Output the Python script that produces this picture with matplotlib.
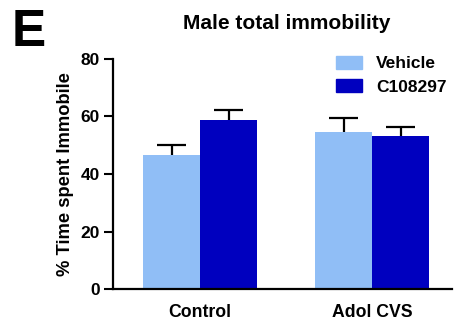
from matplotlib import pyplot as plt
from matplotlib.patches import Patch
import numpy as np

groups = ['Control', 'Adol CVS']
series = ['Vehicle', 'C108297']
vehicle = [46.7, 54.7]
c108297 = [58.7, 53.2]
vehicle_err = [3.2, 4.7]
c108297_err = [3.7, 3.1]
colors = ['#90bef6', '#0000bf']

plt.rcParams['font.family'] = ['Liberation Sans', 'DejaVu Sans']
plt.rcParams['font.weight'] = 'bold'

fig = plt.figure(figsize=(4.54, 3.27), dpi=100)
ax = fig.add_axes([0.249, 0.116, 0.747, 0.704])

x = np.arange(len(groups))
w = 0.331
cap = w / 4
for vals, errs, col, off in [(vehicle, vehicle_err, colors[0], -w / 2),
                             (c108297, c108297_err, colors[1], w / 2)]:
    xs = x + off
    tops = np.array(vals) + np.array(errs)
    ax.bar(xs, vals, w, color=col, zorder=2)
    # upper error bar only, like GraphPad
    ax.vlines(xs, vals, tops, color='black', lw=1.6, zorder=3)
    ax.hlines(tops, xs - cap, xs + cap, color='black', lw=1.6, zorder=3)

ax.set_xlim(-0.506, 1.465)
ax.set_ylim(0, 80)
ax.set_yticks([0, 20, 40, 60, 80])
ax.set_xticks(x)
ax.set_xticklabels(groups, fontsize=12.7, fontweight='bold')
ax.tick_params(axis='x', length=0, pad=11)
ax.tick_params(axis='y', length=6.5, width=1.5, labelsize=12.5, pad=3)
for lab in ax.get_yticklabels():
    lab.set_fontweight('bold')
ax.spines['top'].set_visible(False)
ax.spines['right'].set_visible(False)
ax.spines['left'].set_linewidth(1.6)
ax.spines['bottom'].set_linewidth(1.6)
ax.set_ylabel('% Time spent Immobile', fontsize=13.2, fontweight='bold', labelpad=5)

handles = [Patch(color=c) for c in colors]
ax.legend(handles, series, loc='upper right', bbox_to_anchor=(1.03, 1.08),
          frameon=False, prop={'weight': 'bold', 'size': 12.5},
          handlelength=1.5, handleheight=0.75, handletextpad=0.8, labelspacing=0.45)

fig.text(0.632, 0.927, 'Male total immobility', ha='center', va='center',
         fontsize=15, fontweight='bold')
fig.text(0.025, 0.9, 'E', ha='left', va='center', fontsize=37, fontweight='bold')

fig.savefig('out.png', dpi=100)
